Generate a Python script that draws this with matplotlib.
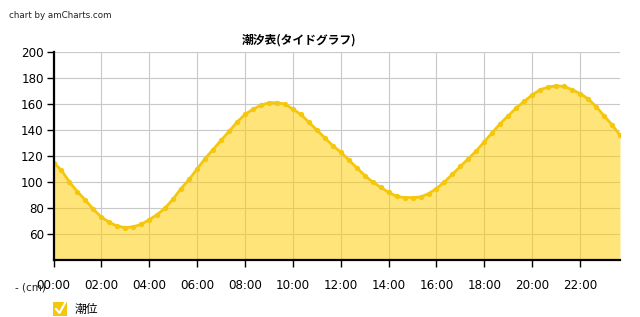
import matplotlib.pyplot as plt
import matplotlib.patches as mpatches
import numpy as np
import pandas as pd

plt.rcParams['font.family'] = ['DejaVu Sans']

title = "潮汐表(タイドグラフ)"
series_name = "潮位"
y_title = "- (cm)"

# 20 minute readings, 00:00 - 23:40
times = pd.date_range("2000-01-01 00:00", periods=72, freq="20min")
tide = [115, 109, 100,  92.5, 86, 79,  73, 69, 66,
        65, 65.5, 67.5,  71, 75, 80,  87, 95, 102,
        110, 118, 125,  132, 139, 146,  152, 156, 159,
        161, 161, 160,  156, 152, 146,  140, 134, 128,
        123, 117, 111,  105, 100, 96,  92, 89, 88,
        88, 88.5, 91,  95, 100, 106,  112, 118, 124,
        131, 138, 145,  151, 157, 162,  167, 171, 173,
        174, 173.5, 171,  168, 164, 158,  151, 144, 136]

y_ticks = [60, 80, 100, 120, 140, 160, 180, 200]
x_tick_hours = list(range(0, 24, 2))
x_tick_labels = ["%02d:00" % h for h in x_tick_hours]

hours = (times - times[0]).total_seconds() / 3600.0

line_col = "#F4C70C"
fill_col = "#FFCC00"

fig = plt.figure(figsize=(6.4, 3.17), dpi=100)
ax = fig.add_axes([53.5 / 640, 1 - 260 / 317, (620 - 53.5) / 640, (260 - 52) / 317])

ax.fill_between(hours, tide, 40, color=fill_col, alpha=0.52, linewidth=0, zorder=2)
ax.plot(hours, tide, color=line_col, linewidth=2.0, marker="o", markersize=3.8,
        markeredgewidth=0, zorder=3)

ax.set_xlim(hours[0], hours[-1])
ax.set_ylim(40, 200)
ax.set_yticks(y_ticks)
ax.set_xticks(x_tick_hours)
ax.set_xticklabels(x_tick_labels)

ax.grid(True, color="#c8c8c8", linewidth=0.8, zorder=0)
ax.set_axisbelow(True)
for s in ["top", "right"]:
    ax.spines[s].set_visible(False)
for s in ["left", "bottom"]:
    ax.spines[s].set_linewidth(1.6)
    ax.spines[s].set_color("black")
    ax.spines[s].set_zorder(4)
ax.tick_params(axis="both", direction="out", length=5, width=1, colors="black",
               labelsize=8.6, pad=2)
ax.tick_params(axis="x", pad=9)

fig.text(9 / 640, 1 - 16 / 317, "chart by amCharts.com", fontsize=6.3, color="#222222",
         va="center", ha="left")
fig.text(299 / 640, 1 - 40 / 317, title, fontsize=8.5, fontweight="bold",
         family=["Noto Sans CJK JP", "DejaVu Sans"], ha="center", va="center")
fig.text(15 / 640, 1 - 287 / 317, y_title, fontsize=7.5, color="#222222",
         ha="left", va="center")

# legend: checkbox + label
box = mpatches.Rectangle((53 / 640, 1 - 316 / 317), 14 / 640, 14 / 317,
                         transform=fig.transFigure, facecolor=line_col, edgecolor="none")
fig.patches.append(box)
fig.lines.append(plt.Line2D([56 / 640, 59.5 / 640, 65.5 / 640],
                            [1 - 309 / 317, 1 - 313 / 317, 1 - 302 / 317],
                            transform=fig.transFigure, color="white", linewidth=1.5))
fig.text(75 / 640, 1 - 309 / 317, series_name, fontsize=8.5,
         family=["Noto Sans CJK JP", "DejaVu Sans"], ha="left", va="center")

fig.savefig("out.png", dpi=100)
